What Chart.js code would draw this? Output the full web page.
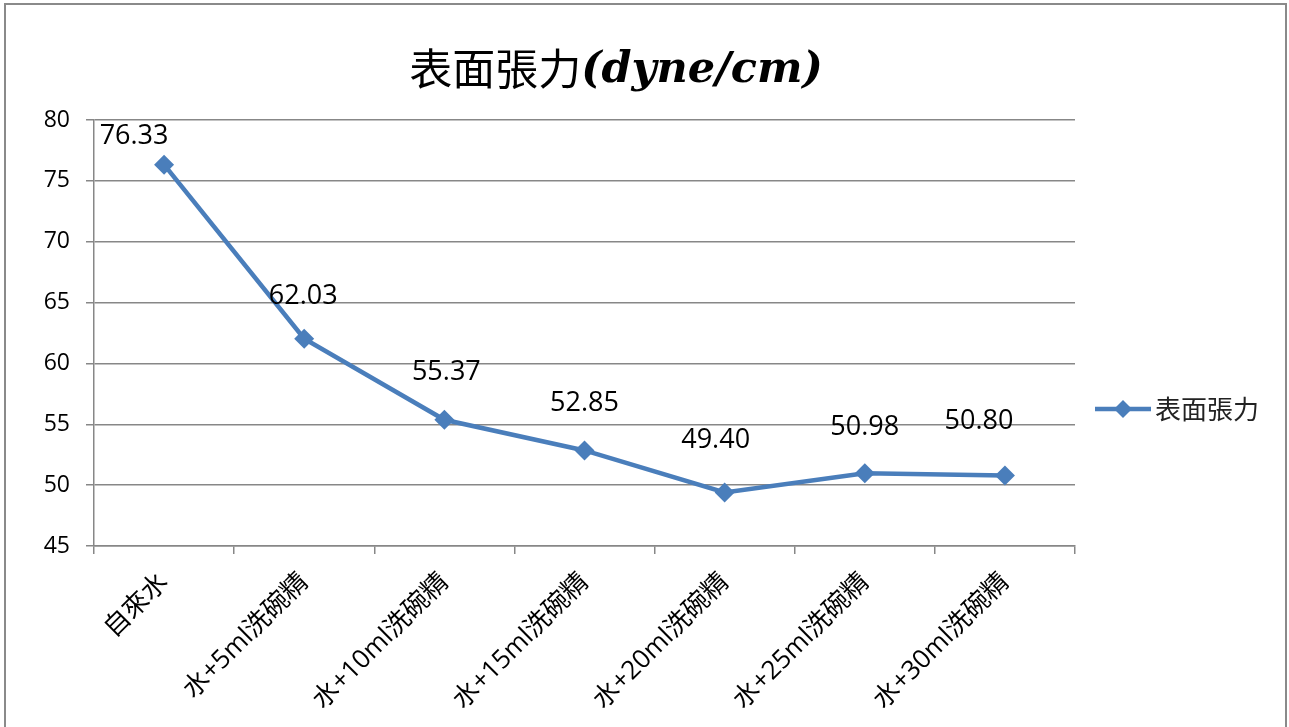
<!DOCTYPE html>
<html>
<head>
<meta charset="utf-8">
<title>表面張力</title>
<script src="https://cdn.jsdelivr.net/npm/chart.js@4/dist/chart.umd.min.js"></script>
<style>
  html, body { margin: 0; padding: 0; background: #fff; }
  #wrap { width: 1289px; height: 727px; }
</style>
</head>
<body>
<div id="wrap"><canvas id="tensionChart" width="1289" height="727"></canvas></div>
<script>
// surface tension readings, one per sample
const categories = ['自來水', '水+5ml洗碗精', '水+10ml洗碗精', '水+15ml洗碗精', '水+20ml洗碗精', '水+25ml洗碗精', '水+30ml洗碗精'];
const tension = [76.33, 62.03, 55.37, 52.85, 49.40, 50.98, 50.80];
const seriesName = '表面張力';
const yTicks = [45, 50, 55, 60, 65, 70, 75, 80];

// small shifts for the value labels so they clear the line
const labelNudge = [[-30, -28], [-1, -42], [2, -47], [0, -47], [-9, -52], [0, -46], [-26, -54]];

const BLUE = '#4a7ebb';
const GRID = '#878787';
const LATIN = "'Open Sans', 'Noto Sans CJK TC', sans-serif";
const CJK = "'Noto Sans CJK TC', 'Noto Sans CJK SC', sans-serif";

const frame = {
    id: 'frame',
    beforeDraw(chart) {
        const ctx = chart.ctx;
        ctx.save();
        ctx.fillStyle = '#fff';
        ctx.fillRect(0, 0, chart.width, chart.height);
        ctx.strokeStyle = '#8a8a8a';
        ctx.lineWidth = 2;
        ctx.strokeRect(5, 4, 1281, 760);
        ctx.restore();
    }
};

// title mixes a CJK run with a bold italic serif run
const titlePlugin = {
    id: 'mixedTitle',
    afterDraw(chart) {
        const ctx = chart.ctx;
        const partA = '表面張力';
        const partB = '(dyne/cm)';
        const fontA = '43px ' + CJK;
        const fontB = 'italic bold 43px "DejaVu Serif", serif';
        ctx.save();
        ctx.font = fontA;
        const wA = ctx.measureText(partA).width;
        ctx.font = fontB;
        const wB = ctx.measureText(partB).width;
        let x = 616 - (wA + wB) / 2;
        const y = 69;
        ctx.fillStyle = '#000';
        ctx.textBaseline = 'middle';
        ctx.textAlign = 'left';
        ctx.font = fontA;
        ctx.fillText(partA, x, y);
        ctx.font = fontB;
        ctx.fillText(partB, x + wA, y + 2);
        ctx.restore();
    }
};

const valueLabels = {
    id: 'valueLabels',
    afterDatasetsDraw(chart) {
        const ctx = chart.ctx;
        const meta = chart.getDatasetMeta(0);
        ctx.save();
        ctx.font = '27px ' + LATIN;
        ctx.fillStyle = '#000';
        ctx.textAlign = 'center';
        ctx.textBaseline = 'middle';
        meta.data.forEach((pt, i) => {
            const n = labelNudge[i] || [0, -45];
            ctx.fillText(tension[i].toFixed(2), pt.x + n[0], pt.y + n[1]);
        });
        ctx.restore();
    }
};

// legend on the right: line with diamond marker, then the series name
const sideLegend = {
    id: 'sideLegend',
    afterDraw(chart) {
        const ctx = chart.ctx;
        const ds = chart.data.datasets[0];
        const y = 409;
        ctx.save();
        ctx.strokeStyle = ds.borderColor;
        ctx.lineWidth = 4.5;
        ctx.beginPath();
        ctx.moveTo(1095, y);
        ctx.lineTo(1151, y);
        ctx.stroke();
        ctx.fillStyle = ds.pointBackgroundColor;
        Chart.helpers.drawPoint(ctx, { pointStyle: 'rectRot', radius: 9, borderWidth: 0 }, 1123, y);
        ctx.font = '26px ' + CJK;
        ctx.fillStyle = '#222';
        ctx.textBaseline = 'middle';
        ctx.fillText(ds.label, 1155, y);
        ctx.restore();
    }
};

new Chart(document.getElementById('tensionChart'), {
    type: 'line',
    data: {
        labels: categories,
        datasets: [{
            label: seriesName,
            data: tension,
            borderColor: BLUE,
            backgroundColor: BLUE,
            borderWidth: 4.5,
            tension: 0,
            pointStyle: 'rectRot',
            pointRadius: 10,
            pointBackgroundColor: BLUE,
            pointBorderColor: BLUE,
            pointBorderWidth: 0
        }]
    },
    options: {
        responsive: false,
        animation: false,
        layout: { padding: { top: 120, right: 214, left: 0, bottom: 0 } },
        plugins: {
            legend: { display: false },
            title: { display: false },
            tooltip: { enabled: false }
        },
        scales: {
            x: {
                offset: true,
                afterFit: s => { s.height = 181; },
                grid: {
                    offset: true,
                    drawOnChartArea: false,
                    drawTicks: true,
                    tickLength: 8,
                    color: GRID,
                    lineWidth: 1.5
                },
                border: { display: true, color: GRID, width: 1.5 },
                ticks: {
                    autoSkip: false,
                    minRotation: 45,
                    maxRotation: 45,
                    padding: 13,
                    color: '#000',
                    font: { family: LATIN, size: 26 }
                }
            },
            y: {
                min: 45,
                max: 80,
                afterFit: s => { s.width = 94; },
                afterBuildTicks: s => { s.ticks = yTicks.map(v => ({ value: v })); },
                grid: {
                    color: GRID,
                    lineWidth: 1.5,
                    tickLength: 8
                },
                border: { display: true, color: GRID, width: 1.5 },
                ticks: {
                    padding: 16,
                    color: '#000',
                    font: { family: LATIN, size: 23 }
                }
            }
        }
    },
    plugins: [frame, titlePlugin, valueLabels, sideLegend]
});
</script>
</body>
</html>
